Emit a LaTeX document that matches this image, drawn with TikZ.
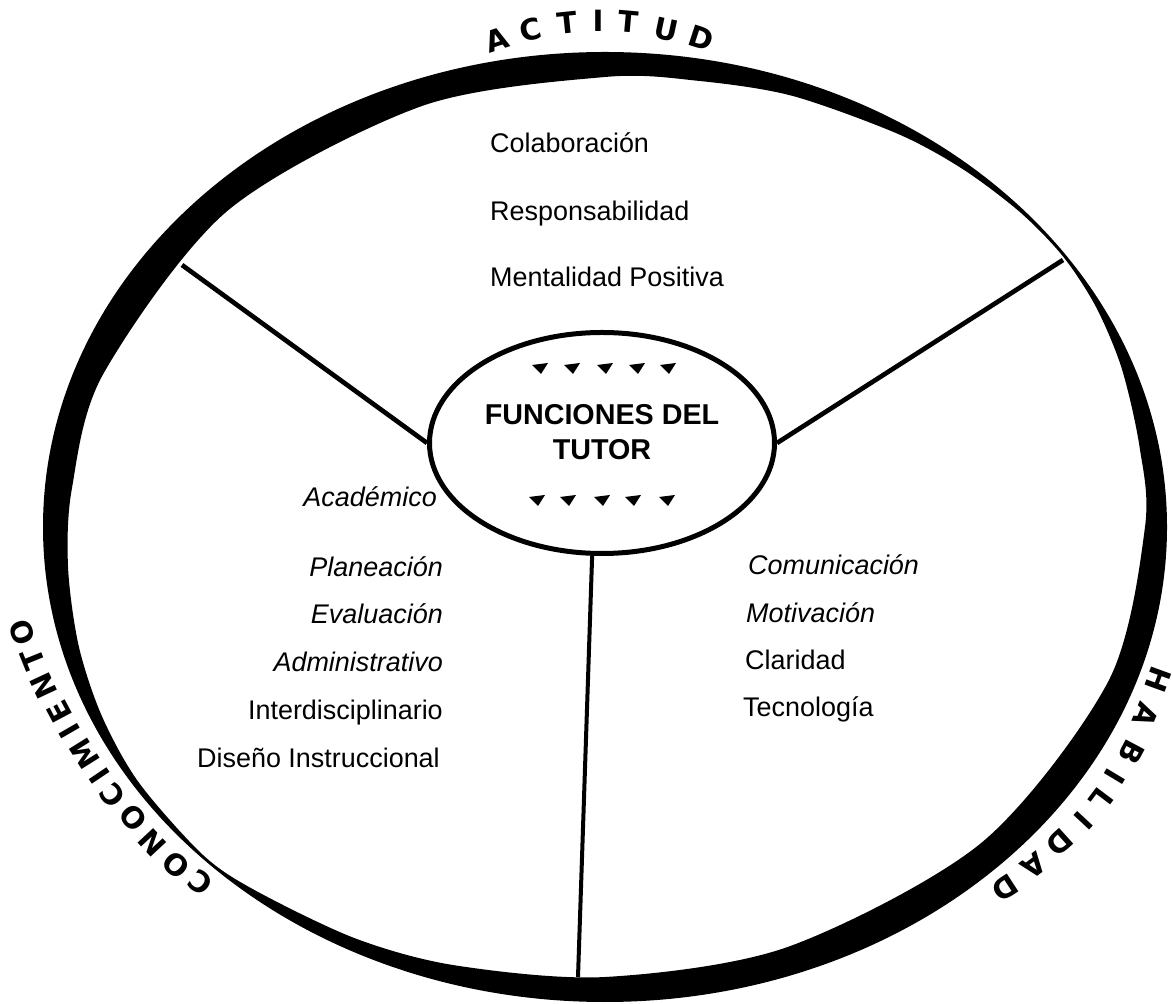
\documentclass[tikz,border=0pt]{standalone}
\usepackage{fontspec}
\setmainfont{Liberation Sans}
\newfontfamily\letrafont{DejaVu Sans}
\usetikzlibrary{shapes.geometric}
\tikzset{
  elemento/.style={font=\fontsize{23}{28}\selectfont, inner sep=0pt},
  elementoit/.style={font=\fontsize{23}{28}\selectfont\itshape, inner sep=0pt},
  titulo/.style={font=\fontsize{24.5}{30}\selectfont\bfseries, align=center, inner sep=0pt},
  letra/.style={font=\letrafont\fontsize{25}{28}\selectfont\bfseries, inner sep=0pt},
  divisor/.style={line width=0.14cm},
  punta/.style={fill=black},
}
\begin{document}
\begin{tikzpicture}[x=0.03cm, y=0.03cm]
\useasboundingbox (0,0) rectangle (1173,1003);

% Outer ring of varying width
\fill[even odd rule] (605,476) ellipse [x radius=562, y radius=475]
  plot[smooth cycle] coordinates {
    (1145.0,476.0) (1139.7,555.2) (1121.8,634.3) (1095.9,696.2) (1062.9,746.7)
    (1019.7,791.1) (961.8,834.5) (897.0,869.5) (791.7,907.3) (698.7,922.1)
    (605.0,926.0) (422.0,897.0) (227.4,792.1) (103.2,628.9) (72.0,515.1)
    (68.0,436.6) (78.6,357.5) (101.7,287.3) (138.7,220.6) (202.9,148.1)
    (255.7,112.3) (355.8,64.4) (455.3,37.6) (605.0,26.0) (787.6,56.0)
    (981.9,160.6) (1108.7,322.4)};

% Central ellipse
\node[ellipse, draw, line width=0.15cm, minimum width=10.35cm, minimum height=6.63cm] (tutor) at (602,560) {};
\node[titulo] (titulo) at (602,571) {FUNCIONES DEL\\TUTOR};

% Small marks above and below the title
\fill[punta] (532,638) -- ++(16,2) -- ++(-7,-11) -- cycle;
\fill[punta] (564,638) -- ++(16,2) -- ++(-7,-11) -- cycle;
\fill[punta] (597,638) -- ++(16,2) -- ++(-7,-11) -- cycle;
\fill[punta] (629,638) -- ++(16,2) -- ++(-7,-11) -- cycle;
\fill[punta] (660,638) -- ++(16,2) -- ++(-7,-11) -- cycle;
\fill[punta] (529,506) -- ++(16,2) -- ++(-7,-11) -- cycle;
\fill[punta] (560,506) -- ++(16,2) -- ++(-7,-11) -- cycle;
\fill[punta] (594,506) -- ++(16,2) -- ++(-7,-11) -- cycle;
\fill[punta] (625,506) -- ++(16,2) -- ++(-7,-11) -- cycle;
\fill[punta] (659,506) -- ++(16,2) -- ++(-7,-11) -- cycle;

% Dividing lines
\coordinate (anilloNO) at (182,738);
\coordinate (anilloNE) at (1063,743);
\coordinate (anilloS) at (578,26);
\draw[divisor] (anilloNO) -- (tutor.west);
\draw[divisor] (anilloNE) -- (tutor.east);
\draw[line width=0.12cm] (anilloS) -- (tutor.265);

% Actitud
\node[elemento, anchor=base west] (colab) at (490,850) {Colaboración};
\node[elemento, anchor=base west] (respon) at (490,782) {Responsabilidad};
\node[elemento, anchor=base west] (mental) at (490,716) {Mentalidad Positiva};

% Conocimiento
\node[elementoit, anchor=base east] (academ) at (437,496) {Académico};
\node[elementoit, anchor=base east] (planea) at (443,426) {Planeación};
\node[elementoit, anchor=base east] (evalua) at (443,379) {Evaluación};
\node[elementoit, anchor=base east] (admin) at (443,331) {Administrativo};
\node[elemento, anchor=base east] (interd) at (443,283) {Interdisciplinario};
\node[elemento, anchor=base east] (diseno) at (440,235) {Diseño Instruccional};

% Habilidad
\node[elementoit, anchor=base west] (comun) at (748,428) {Comunicación};
\node[elementoit, anchor=base west] (motiv) at (746,380) {Motivación};
\node[elemento, anchor=base west] (clari) at (745,333) {Claridad};
\node[elemento, anchor=base west] (tecno) at (743,286) {Tecnología};

% ACTITUD
\node[letra, rotate=18] (act1) at (497,963) {A};
\node[letra, rotate=13] (act2) at (531,973) {C};
\node[letra, rotate=6] (act3) at (567,980) {T};
\node[letra, rotate=0] (act4) at (598,982) {I};
\node[letra, rotate=-5] (act5) at (628,981) {T};
\node[letra, rotate=-12] (act6) at (666,973) {U};
\node[letra, rotate=-18] (act7) at (701,965) {D};

% CONOCIMIENTO
\node[letra, rotate=143] (con1) at (200,120) {C};
\node[letra, rotate=138] (con2) at (175.7,138) {O};
\node[letra, rotate=133] (con3) at (152.8,160.3) {N};
\node[letra, rotate=130] (con4) at (133.3,185.5) {O};
\node[letra, rotate=127] (con5) at (113,208) {C};
\node[letra, rotate=124] (con6) at (99.5,226.8) {I};
\node[letra, rotate=122] (con7) at (85,249.6) {M};
\node[letra, rotate=120] (con8) at (70,272) {I};
\node[letra, rotate=118] (con9) at (59,291.4) {E};
\node[letra, rotate=115] (con10) at (43.8,316.6) {N};
\node[letra, rotate=112] (con11) at (32.6,343.6) {T};
\node[letra, rotate=110] (con12) at (22,371) {O};

% HABILIDAD
\node[letra, rotate=-110] (hab1) at (1158,323) {H};
\node[letra, rotate=-113] (hab2) at (1146,288) {A};
\node[letra, rotate=-118] (hab3) at (1132,251) {B};
\node[letra, rotate=-121] (hab4) at (1115,226) {I};
\node[letra, rotate=-127] (hab5) at (1101,204) {L};
\node[letra, rotate=-133] (hab6) at (1084,182) {I};
\node[letra, rotate=-138] (hab7) at (1060,160) {D};
\node[letra, rotate=-143] (hab8) at (1034,137) {A};
\node[letra, rotate=-147] (hab9) at (1005,115) {D};
\end{tikzpicture}
\end{document}
